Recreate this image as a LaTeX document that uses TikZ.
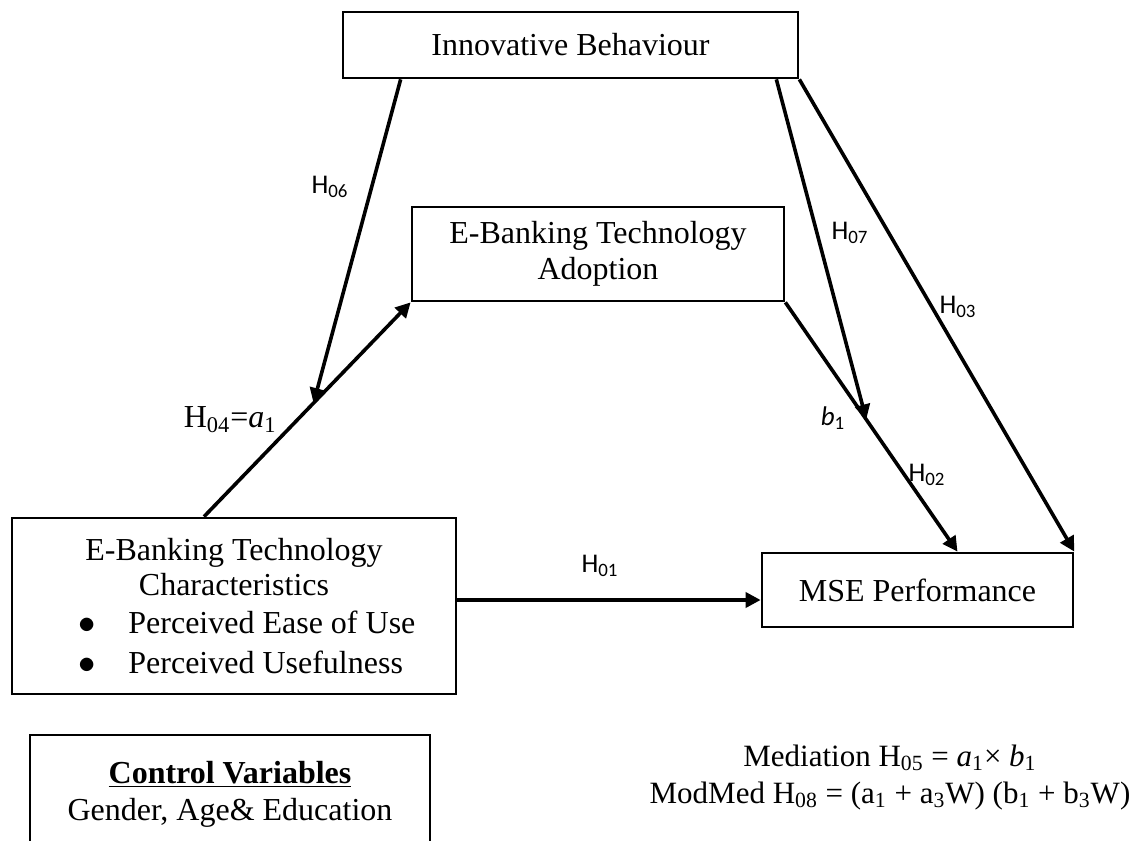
\documentclass[tikz,border=0pt]{standalone}
\usepackage{fontspec}
\setmainfont{Liberation Serif}
\newfontfamily\lblfont{Carlito}
\usetikzlibrary{arrows.meta,calc}

\tikzset{
  box/.style={draw, line width=1.35pt, inner sep=0pt},
  path/.style={line width=1.8pt, -{Triangle[length=7.5pt,width=7.5pt]}},
  hyp/.style={font=\lblfont\fontsize{13.5}{16}\selectfont, inner sep=0pt},
  formula/.style={anchor=base, font=\fontsize{15.5}{18}\selectfont},
}

\begin{document}
\begin{tikzpicture}[x=0.5pt,y=-0.5pt, every node/.style={font=\fontsize{16}{18}\selectfont}]
\useasboundingbox (0,0) rectangle (1142,841);

% the four constructs
\node[box, minimum width=227.5pt, minimum height=33pt] (ib) at (570.5,45) {Innovative Behaviour};
\node[box, minimum width=186pt, minimum height=47pt, align=center] (adopt) at (598,254) {E-Banking Technology\\Adoption};
\node[box, minimum width=222pt, minimum height=88pt] (chars) at (234,606) {};
\node[box, minimum width=155.5pt, minimum height=37pt] (mse) at (917.5,590) {MSE Performance};

% text of the characteristics box
\node[anchor=base] (chtop) at (234,560) {E-Banking Technology};
\node[anchor=base] (chmid) at (234,595) {Characteristics};
\node[anchor=base] (dot1) at (87,633) {$\bullet$};
\node[anchor=base west, inner sep=0pt] (peou) at (128,633) {Perceived Ease of Use};
\node[anchor=base] (dot2) at (87,673) {$\bullet$};
\node[anchor=base west, inner sep=0pt] (pu) at (128,673) {Perceived Usefulness};

% control variables (box runs off the page)
\node[box, minimum width=200pt, minimum height=75pt] (ctrl) at (230,810) {};
\node[anchor=base] (cvhead) at (230,783) {\textbf{\underline{Control Variables}}};
\node[anchor=base] (cvlist) at (230,820) {Gender, Age\& Education};

% mediation formulas
\node[formula] (medeq) at (890,766) {Mediation H\textsubscript{05} = \textit{a}\textsubscript{1}× \textit{b}\textsubscript{1}};
\node[formula] (modeq) at (890,803) {ModMed H\textsubscript{08} = (a\textsubscript{1} + a\textsubscript{3}W) (b\textsubscript{1} + b\textsubscript{3}W)};

% paths
\coordinate (astart) at ([xshift=-15pt]chars.north);
\draw[path] (astart) -- (adopt.south west);
\coordinate (amid) at ($(astart)!0.53!(adopt.south west)$);
\draw[path] ([xshift=29.5pt]ib.south west) -- (amid);
\coordinate (bend) at ([xshift=20pt]mse.north);
\draw[path] (adopt.south east) -- (bend);
\coordinate (bmid) at ($(adopt.south east)!0.47!(bend)$);
\draw[path] ([xshift=-11.5pt]ib.south east) -- (bmid);
\draw[path] (ib.south east) -- (mse.north east);
\coordinate (hend) at ([yshift=-5pt]mse.west);
\draw[path] (chars.east |- hend) -- (hend);

% hypothesis labels
\node[hyp] (h06) at (330,187) {H\textsubscript{06}};
\node[hyp] (h07) at (850,233) {H\textsubscript{07}};
\node[hyp] (h03) at (958,307) {H\textsubscript{03}};
\node[hyp] (h02) at (927,475) {H\textsubscript{02}};
\node[hyp] (h01) at (600,566) {H\textsubscript{01}};
\node[hyp] (b1) at (833,418) {\textit{b}\textsubscript{1}};
\node[anchor=east, inner sep=0pt] (h04) at (277,420) {H\textsubscript{04}=\textit{a}\textsubscript{1}};
\end{tikzpicture}
\end{document}
